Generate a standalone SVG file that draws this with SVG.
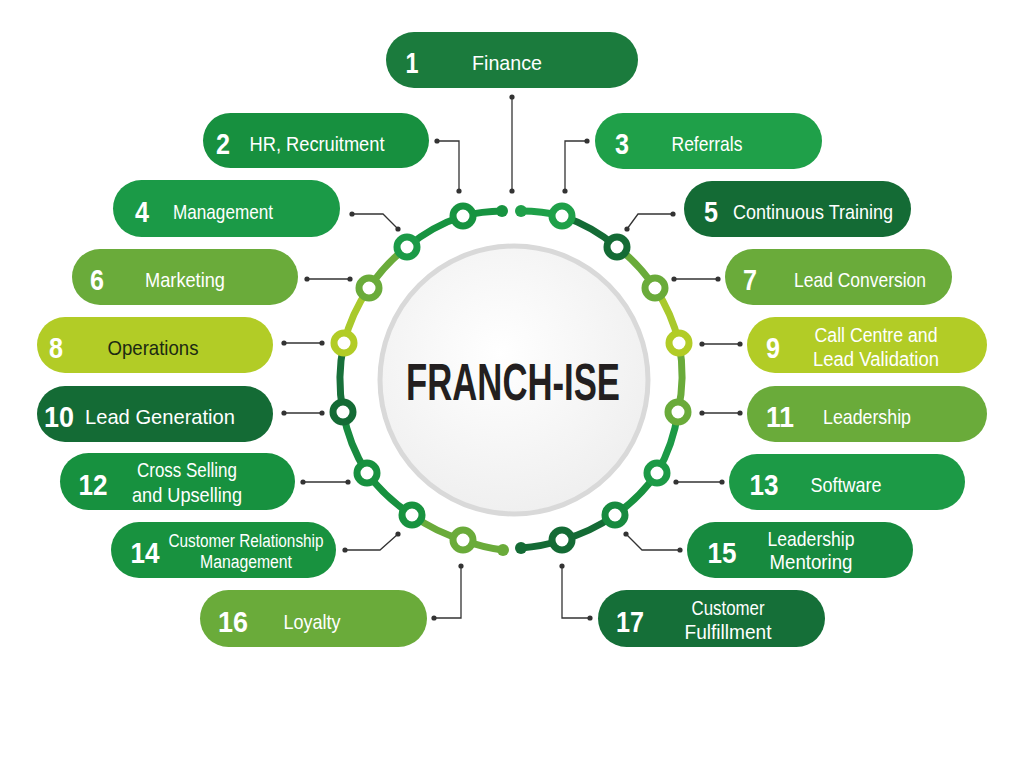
<svg xmlns="http://www.w3.org/2000/svg" width="1024" height="768" viewBox="0 0 1024 768">
<style>
.t{font-family:"Liberation Sans",Arial,sans-serif;fill:#fff;text-anchor:middle}
.l{font-size:21px}
.l2{font-size:20px}
.n{font-size:30px;font-weight:bold}
.dk{fill:#1c2a12}
.conn{fill:none;stroke:#333;stroke-width:1.3;marker-start:url(#dot);marker-end:url(#dot)}
.arc{fill:none;stroke-width:7}
.ring{fill:#fff;stroke-width:7}
</style>
<defs>
<marker id="dot" markerUnits="userSpaceOnUse" markerWidth="8" markerHeight="8" refX="4" refY="4"><circle cx="4" cy="4" r="2.6" fill="#333"/></marker>
<radialGradient id="cg" cx="0.45" cy="0.4" r="0.65"><stop offset="0" stop-color="#ffffff"/><stop offset="1" stop-color="#eeeeee"/></radialGradient>
</defs>
<rect width="1024" height="768" fill="#fff"/>

<g id="center">
<circle cx="514" cy="380" r="134" fill="url(#cg)" stroke="#d9d9d9" stroke-width="5"/>
<text x="513" y="400" font-family="Liberation Sans,Arial,sans-serif" font-weight="bold" font-size="52" fill="#231f20" text-anchor="middle" textLength="214" lengthAdjust="spacingAndGlyphs">FRANCH-ISE</text>
</g>

<g id="ring-arcs">
<path class="arc" stroke="#179340" d="M502,211 A170,170 0 0 0 463,216"/>
<path class="arc" stroke="#179340" d="M463,216 A170,170 0 0 0 407,247"/>
<path class="arc" stroke="#6aab3a" d="M407,247 A170,170 0 0 0 369,288"/>
<path class="arc" stroke="#a9c92c" d="M369,288 A170,170 0 0 0 344,343"/>
<path class="arc" stroke="#18703a" d="M344,343 A170,170 0 0 0 343,412"/>
<path class="arc" stroke="#188a3f" d="M343,412 A170,170 0 0 0 367,473"/>
<path class="arc" stroke="#17913f" d="M367,473 A170,170 0 0 0 412,515"/>
<path class="arc" stroke="#6aab3a" d="M412,515 A170,170 0 0 0 463,540"/>
<path class="arc" stroke="#6aab3a" d="M463,540 A170,170 0 0 0 503,550"/>
<path class="arc" stroke="#1fa049" d="M521,211 A170,170 0 0 1 562,216"/>
<path class="arc" stroke="#146b35" d="M562,216 A170,170 0 0 1 617,247"/>
<path class="arc" stroke="#6aab3a" d="M617,247 A170,170 0 0 1 655,288"/>
<path class="arc" stroke="#a9c92c" d="M655,288 A170,170 0 0 1 679,343"/>
<path class="arc" stroke="#6aab3a" d="M679,343 A170,170 0 0 1 678,412"/>
<path class="arc" stroke="#1c9a46" d="M678,412 A170,170 0 0 1 657,473"/>
<path class="arc" stroke="#18913f" d="M657,473 A170,170 0 0 1 615,515"/>
<path class="arc" stroke="#146b35" d="M615,515 A170,170 0 0 1 562,540"/>
<path class="arc" stroke="#146b35" d="M562,540 A170,170 0 0 1 521,548"/>
<circle cx="502" cy="211" r="6" fill="#179340"/>
<circle cx="521" cy="211" r="6" fill="#1fa049"/>
<circle cx="503" cy="550" r="6" fill="#6aab3a"/>
<circle cx="521" cy="548" r="6" fill="#146b35"/>
</g>

<g id="ring-nodes">
<circle class="ring" cx="463" cy="216" r="10" stroke="#179340"/>
<circle class="ring" cx="562" cy="216" r="10" stroke="#1fa049"/>
<circle class="ring" cx="407" cy="247" r="10" stroke="#1b9a47"/>
<circle class="ring" cx="617" cy="247" r="10" stroke="#146b35"/>
<circle class="ring" cx="369" cy="288" r="10" stroke="#6aab3a"/>
<circle class="ring" cx="655" cy="288" r="10" stroke="#6aab3a"/>
<circle class="ring" cx="344" cy="343" r="10" stroke="#b2cc26"/>
<circle class="ring" cx="679" cy="343" r="10" stroke="#b2cc26"/>
<circle class="ring" cx="343" cy="412" r="10" stroke="#146b35"/>
<circle class="ring" cx="678" cy="412" r="10" stroke="#6aab3a"/>
<circle class="ring" cx="367" cy="473" r="10" stroke="#17913f"/>
<circle class="ring" cx="657" cy="473" r="10" stroke="#1c9a46"/>
<circle class="ring" cx="412" cy="515" r="10" stroke="#18923f"/>
<circle class="ring" cx="615" cy="515" r="10" stroke="#178a3f"/>
<circle class="ring" cx="463" cy="540" r="10" stroke="#6aab3a"/>
<circle class="ring" cx="562" cy="540" r="10" stroke="#146b35"/>
</g>

<g id="connectors">
<path class="conn" d="M512,97 L512,191"/>
<path class="conn" d="M437,141 L459,141 L459,191"/>
<path class="conn" d="M587,141 L565,141 L565,191"/>
<path class="conn" d="M352,214 L383,214 L398,229"/>
<path class="conn" d="M673,214 L638,214 L627,229"/>
<path class="conn" d="M307,279 L350,279"/>
<path class="conn" d="M674,279 L718,279"/>
<path class="conn" d="M284,343 L322,343"/>
<path class="conn" d="M702,344 L740,344"/>
<path class="conn" d="M284,413 L322,413"/>
<path class="conn" d="M702,413 L740,413"/>
<path class="conn" d="M303,482 L348,482"/>
<path class="conn" d="M676,482 L722,482"/>
<path class="conn" d="M345,550 L380,550 L398,534"/>
<path class="conn" d="M626,534 L642,550 L680,550"/>
<path class="conn" d="M434,618 L461,618 L461,566"/>
<path class="conn" d="M562,566 L562,618 L590,618"/>
</g>

<g id="node1"><rect x="386" y="32" width="252" height="56" rx="28" fill="#1b7b3d"/>
<text class="t n" x="412" y="73" textLength="13" lengthAdjust="spacingAndGlyphs">1</text>
<text class="t l" x="507" y="70" textLength="70" lengthAdjust="spacingAndGlyphs">Finance</text></g>

<g id="node2"><rect x="203" y="113" width="226" height="55" rx="27.5" fill="#17903f"/>
<text class="t n" x="223" y="154" textLength="14" lengthAdjust="spacingAndGlyphs">2</text>
<text class="t l" x="317" y="151" textLength="135" lengthAdjust="spacingAndGlyphs">HR, Recruitment</text></g>

<g id="node3"><rect x="595" y="113" width="227" height="56" rx="28" fill="#1fa049"/>
<text class="t n" x="622" y="154" textLength="14" lengthAdjust="spacingAndGlyphs">3</text>
<text class="t l" x="707" y="151" textLength="71" lengthAdjust="spacingAndGlyphs">Referrals</text></g>

<g id="node4"><rect x="113" y="180" width="227" height="57" rx="28.5" fill="#1b9a47"/>
<text class="t n" x="142" y="222" textLength="14" lengthAdjust="spacingAndGlyphs">4</text>
<text class="t l" x="223" y="219" textLength="100" lengthAdjust="spacingAndGlyphs">Management</text></g>

<g id="node5"><rect x="684" y="181" width="227" height="56" rx="28" fill="#146b35"/>
<text class="t n" x="711" y="222" textLength="14" lengthAdjust="spacingAndGlyphs">5</text>
<text class="t l" x="813" y="219" textLength="160" lengthAdjust="spacingAndGlyphs">Continuous Training</text></g>

<g id="node6"><rect x="72" y="249" width="226" height="56" rx="28" fill="#6aab3a"/>
<text class="t n" x="97" y="290" textLength="14" lengthAdjust="spacingAndGlyphs">6</text>
<text class="t l" x="185" y="287" textLength="80" lengthAdjust="spacingAndGlyphs">Marketing</text></g>

<g id="node7"><rect x="725" y="249" width="227" height="56" rx="28" fill="#6aab3a"/>
<text class="t n" x="750" y="290" textLength="14" lengthAdjust="spacingAndGlyphs">7</text>
<text class="t l" x="860" y="287" textLength="132" lengthAdjust="spacingAndGlyphs">Lead Conversion</text></g>

<g id="node8"><rect x="37" y="317" width="236" height="56" rx="28" fill="#b2cc26"/>
<text class="t n" x="56" y="358" textLength="14" lengthAdjust="spacingAndGlyphs">8</text>
<text class="t l dk" x="153" y="355" textLength="91" lengthAdjust="spacingAndGlyphs">Operations</text></g>

<g id="node9"><rect x="747" y="317" width="240" height="56" rx="28" fill="#b2cc26"/>
<text class="t n" x="773" y="358" textLength="14" lengthAdjust="spacingAndGlyphs">9</text>
<text class="t l2" x="876" y="342" textLength="123" lengthAdjust="spacingAndGlyphs">Call Centre and</text>
<text class="t l2" x="876" y="366" textLength="126" lengthAdjust="spacingAndGlyphs">Lead Validation</text></g>

<g id="node10"><rect x="37" y="386" width="236" height="56" rx="28" fill="#146b35"/>
<text class="t n" x="59" y="427" textLength="30" lengthAdjust="spacingAndGlyphs">10</text>
<text class="t l" x="160" y="424" textLength="150" lengthAdjust="spacingAndGlyphs">Lead Generation</text></g>

<g id="node11"><rect x="747" y="386" width="240" height="56" rx="28" fill="#6aab3a"/>
<text class="t n" x="780" y="427" textLength="28" lengthAdjust="spacingAndGlyphs">11</text>
<text class="t l" x="867" y="424" textLength="88" lengthAdjust="spacingAndGlyphs">Leadership</text></g>

<g id="node12"><rect x="60" y="453" width="235" height="57" rx="28.5" fill="#17913f"/>
<text class="t n" x="93" y="495" textLength="29" lengthAdjust="spacingAndGlyphs">12</text>
<text class="t l" x="187" y="477" textLength="100" lengthAdjust="spacingAndGlyphs">Cross Selling</text>
<text class="t l" x="187" y="502" textLength="110" lengthAdjust="spacingAndGlyphs">and Upselling</text></g>

<g id="node13"><rect x="729" y="454" width="236" height="56" rx="28" fill="#1c9a46"/>
<text class="t n" x="764" y="495" textLength="29" lengthAdjust="spacingAndGlyphs">13</text>
<text class="t l" x="846" y="492" textLength="71" lengthAdjust="spacingAndGlyphs">Software</text></g>

<g id="node14"><rect x="111" y="522" width="225" height="56" rx="28" fill="#18923f"/>
<text class="t n" x="145" y="563" textLength="29" lengthAdjust="spacingAndGlyphs">14</text>
<text class="t" font-size="18" x="246" y="547" textLength="155" lengthAdjust="spacingAndGlyphs">Customer Relationship</text>
<text class="t" font-size="18" x="246" y="568" textLength="92" lengthAdjust="spacingAndGlyphs">Management</text></g>

<g id="node15"><rect x="687" y="522" width="226" height="56" rx="28" fill="#178a3f"/>
<text class="t n" x="722" y="563" textLength="29" lengthAdjust="spacingAndGlyphs">15</text>
<text class="t l" x="811" y="546" textLength="87" lengthAdjust="spacingAndGlyphs">Leadership</text>
<text class="t l" x="811" y="569" textLength="83" lengthAdjust="spacingAndGlyphs">Mentoring</text></g>

<g id="node16"><rect x="200" y="590" width="227" height="57" rx="28.5" fill="#6aab3a"/>
<text class="t n" x="233" y="632" textLength="30" lengthAdjust="spacingAndGlyphs">16</text>
<text class="t l" x="312" y="629" textLength="57" lengthAdjust="spacingAndGlyphs">Loyalty</text></g>

<g id="node17"><rect x="598" y="590" width="227" height="57" rx="28.5" fill="#156f38"/>
<text class="t n" x="630" y="632" textLength="28" lengthAdjust="spacingAndGlyphs">17</text>
<text class="t l" x="728" y="615" textLength="73" lengthAdjust="spacingAndGlyphs">Customer</text>
<text class="t l" x="728" y="639" textLength="87" lengthAdjust="spacingAndGlyphs">Fulfillment</text></g>
</svg>
